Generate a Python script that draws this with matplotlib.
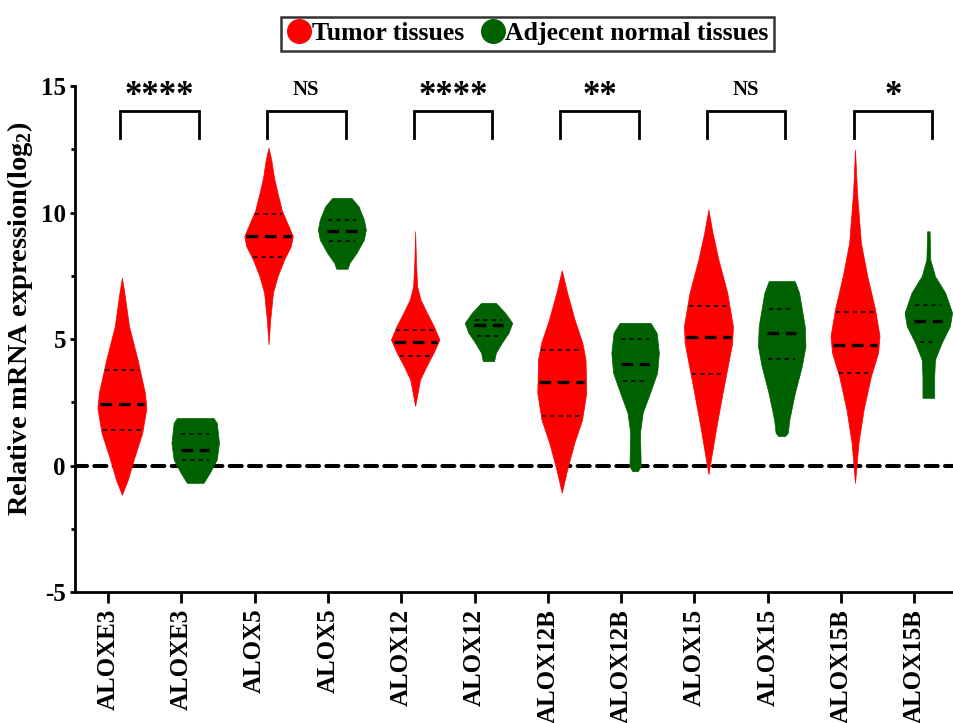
import matplotlib
matplotlib.use('Agg')
import matplotlib.pyplot as plt
from matplotlib.lines import Line2D
import numpy as np

plt.rcParams['font.family'] = ['Liberation Serif', 'DejaVu Serif']
plt.rcParams['font.weight'] = 'bold'
plt.rcParams['axes.unicode_minus'] = False
plt.rcParams['mathtext.fontset'] = 'custom'
plt.rcParams['mathtext.rm'] = 'Liberation Serif:bold'
plt.rcParams['mathtext.bf'] = 'Liberation Serif:bold'

# x categories (tumor / normal alternating)
labels = ['ALOXE3', 'ALOXE3', 'ALOX5', 'ALOX5', 'ALOX12', 'ALOX12',
          'ALOX12B', 'ALOX12B', 'ALOX15', 'ALOX15', 'ALOX15B', 'ALOX15B']
groups = ['tumor', 'normal'] * 6

# violin outlines: y levels and relative half widths
aloxe3_t_y = [7.42, 6.83, 5.51, 4.19, 2.87, 2.28, 1.29, 0.24, -0.56, -1.15]
aloxe3_t_w = [0, 0.10, 0.29, 0.64, 0.94, 1.0, 0.83, 0.48, 0.24, 0]
aloxe3_n_y = [1.88, 1.69, 0.90, 0.24, -0.29, -0.68]
aloxe3_n_w = [0.75, 0.88, 0.97, 0.88, 0.59, 0.34]
alox5_t_y = [12.56, 12.1, 11.4, 10.8, 10.1, 9.46, 9.07, 8.67, 8.15, 7.49, 6.83, 5.78, 4.79]
alox5_t_w = [0, 0.11, 0.22, 0.36, 0.54, 0.82, 0.99, 0.91, 0.64, 0.37, 0.18, 0.07, 0]
alox5_n_y = [10.58, 10.25, 9.72, 9.33, 8.93, 8.41, 8.01, 7.78]
alox5_n_w = [0.39, 0.68, 0.90, 0.98, 0.90, 0.60, 0.31, 0.23]
alox12_t_y = [9.26, 8.14, 7.09, 6.56, 6.04, 5.51, 4.98, 4.46, 3.93, 3.40, 2.88, 2.36]
alox12_t_w = [0, 0.03, 0.08, 0.22, 0.48, 0.76, 0.99, 0.75, 0.46, 0.20, 0.10, 0]
alox12_n_y = [6.43, 6.04, 5.64, 5.25, 4.85, 4.46, 4.13]
alox12_n_w = [0.30, 0.68, 0.97, 0.82, 0.54, 0.30, 0.23]
alox12b_t_y = [7.72, 6.83, 5.78, 4.85, 4.19, 2.88, 1.82, 0.90, -0.15, -1.07]
alox12b_t_w = [0, 0.22, 0.52, 0.84, 0.97, 1.0, 0.83, 0.51, 0.22, 0]
alox12b_n_y = [5.64, 5.25, 4.46, 3.67, 2.88, 2.09, 1.30, -0.02, -0.22]
alox12b_n_w = [0.63, 0.88, 0.97, 0.90, 0.61, 0.31, 0.20, 0.23, 0.11]
alox15_t_y = [10.12, 9.20, 8.14, 6.83, 5.51, 4.85, 4.19, 2.88, 1.56, 0.24, -0.34]
alox15_t_w = [0, 0.17, 0.41, 0.77, 1.0, 0.97, 0.84, 0.58, 0.33, 0.10, 0]
alox15_n_y = [7.29, 6.83, 5.51, 4.72, 3.93, 2.88, 1.82, 1.30, 1.17]
alox15_n_w = [0.53, 0.71, 0.94, 0.97, 0.82, 0.54, 0.31, 0.25, 0.14]
alox15b_t_y = [12.49, 10.78, 8.80, 7.49, 6.17, 5.12, 4.46, 3.54, 2.22, 0.90, -0.68]
alox15b_t_w = [0, 0.08, 0.24, 0.50, 0.82, 1.0, 0.94, 0.65, 0.35, 0.14, 0]
alox15b_n_y = [9.26, 8.14, 7.49, 6.83, 6.04, 5.51, 4.85, 4.19, 3.54, 2.68]
alox15b_n_w = [0.05, 0.08, 0.27, 0.69, 0.97, 0.88, 0.54, 0.27, 0.24, 0.24]

outlines = [(aloxe3_t_y, aloxe3_t_w), (aloxe3_n_y, aloxe3_n_w),
            (alox5_t_y, alox5_t_w), (alox5_n_y, alox5_n_w),
            (alox12_t_y, alox12_t_w), (alox12_n_y, alox12_n_w),
            (alox12b_t_y, alox12b_t_w), (alox12b_n_y, alox12b_n_w),
            (alox15_t_y, alox15_t_w), (alox15_n_y, alox15_n_w),
            (alox15b_t_y, alox15b_t_w), (alox15b_n_y, alox15b_n_w)]

medians = [2.44, 0.61, 9.09, 9.27, 4.89, 5.55, 3.30, 4.02, 5.07, 5.25, 4.76, 5.71]
q3 = [3.77, 1.26, 9.96, 9.72, 5.34, 5.74, 4.56, 4.99, 6.30, 6.17, 6.08, 6.34]
q1 = [1.40, 0.24, 8.25, 8.87, 4.32, 5.14, 1.96, 3.33, 3.64, 4.22, 3.67, 4.88]

significance = ['****', 'NS', '****', '**', 'NS', '*']

colors = {'tumor': '#ff0000', 'normal': '#006100'}
max_half = 0.334

fig = plt.figure(figsize=(9.54, 7.23), dpi=100)
ax = fig.add_axes([0.0786, 0.181, 0.9214, 0.70])

for i, (ys, ws) in enumerate(outlines):
    ys = np.array(ys)
    ws = np.array(ws) * max_half
    col = colors[groups[i]]
    ax.fill_betweenx(ys, i - ws, i + ws, color=col, lw=0.5, edgecolor=col, zorder=2)
    frac = 0.93 if groups[i] == 'tumor' else 0.62
    order = np.argsort(ys)
    for val, lw, dash in [(medians[i], 2.4, (3.5, 2.0)), (q3[i], 1.2, (2.5, 2.5)), (q1[i], 1.2, (2.5, 2.5))]:
        hw = np.interp(val, ys[order], ws[order]) * frac
        ax.plot([i - hw, i + hw], [val, val], color='black', lw=lw,
                dashes=dash, zorder=3)

# zero reference line
ax.axhline(0, color='black', lw=2.9, dashes=(3.0, 1.8), dash_capstyle='round', zorder=1)

# significance brackets
for k, txt in enumerate(significance):
    x0, x1 = 2 * k - 0.02, 2 * k + 1.05
    ax.plot([x0, x0, x1, x1], [12.96, 14.0, 14.0, 12.96], color='black', lw=2, zorder=3,
            solid_joinstyle='miter')
    if 'NS' in txt:
        ax.text((x0 + x1) / 2, 14.45, txt, ha='center', va='bottom', fontsize=15,
                fontweight='bold')
    else:
        ax.text((x0 + x1) / 2, 13.95, txt, ha='center', va='bottom', fontsize=25,
                fontweight='bold')

ax.set_xlim(-0.64, 11.35)
ax.set_ylim(-5, 15)
ax.set_yticks([-5, 0, 5, 10, 15])
ax.set_yticks([-2.5, 2.5, 7.5, 12.5], minor=True)
ax.set_xticks(np.arange(12) - 0.19)
ax.set_xticklabels(labels, rotation=90, fontsize=18, fontweight='bold')
ax.tick_params(axis='y', labelsize=18, width=2, length=3.5, pad=3)
ax.tick_params(axis='y', which='minor', width=2, length=3)
ax.tick_params(axis='x', width=2, length=8, pad=4)
for lab in ax.get_yticklabels():
    lab.set_fontweight('bold')
for s in ['top', 'right']:
    ax.spines[s].set_visible(False)
for s in ['left', 'bottom']:
    ax.spines[s].set_linewidth(2)

ax.set_ylabel('Relative mRNA expression(log$_\\mathbf{2}$)', fontsize=20.5, fontweight='bold')
ax.yaxis.set_label_coords(-0.045, 0.54)

handles = [Line2D([], [], ls='none', marker='o', markersize=17, color=colors['tumor']),
           Line2D([], [], ls='none', marker='o', markersize=17, color=colors['normal'])]
leg = fig.legend(handles, ['Tumor tissues', 'Adjecent normal tissues'], loc='center',
                 bbox_to_anchor=(0.553, 0.953), ncol=2, fancybox=False, frameon=True,
                 prop={'size': 18.5, 'weight': 'bold'}, handletextpad=0.0,
                 columnspacing=0.6, borderpad=0.2, handlelength=1.0)
leg.get_frame().set_edgecolor('black')
leg.get_frame().set_linewidth(1.8)

fig.savefig('out.png', dpi=100)
